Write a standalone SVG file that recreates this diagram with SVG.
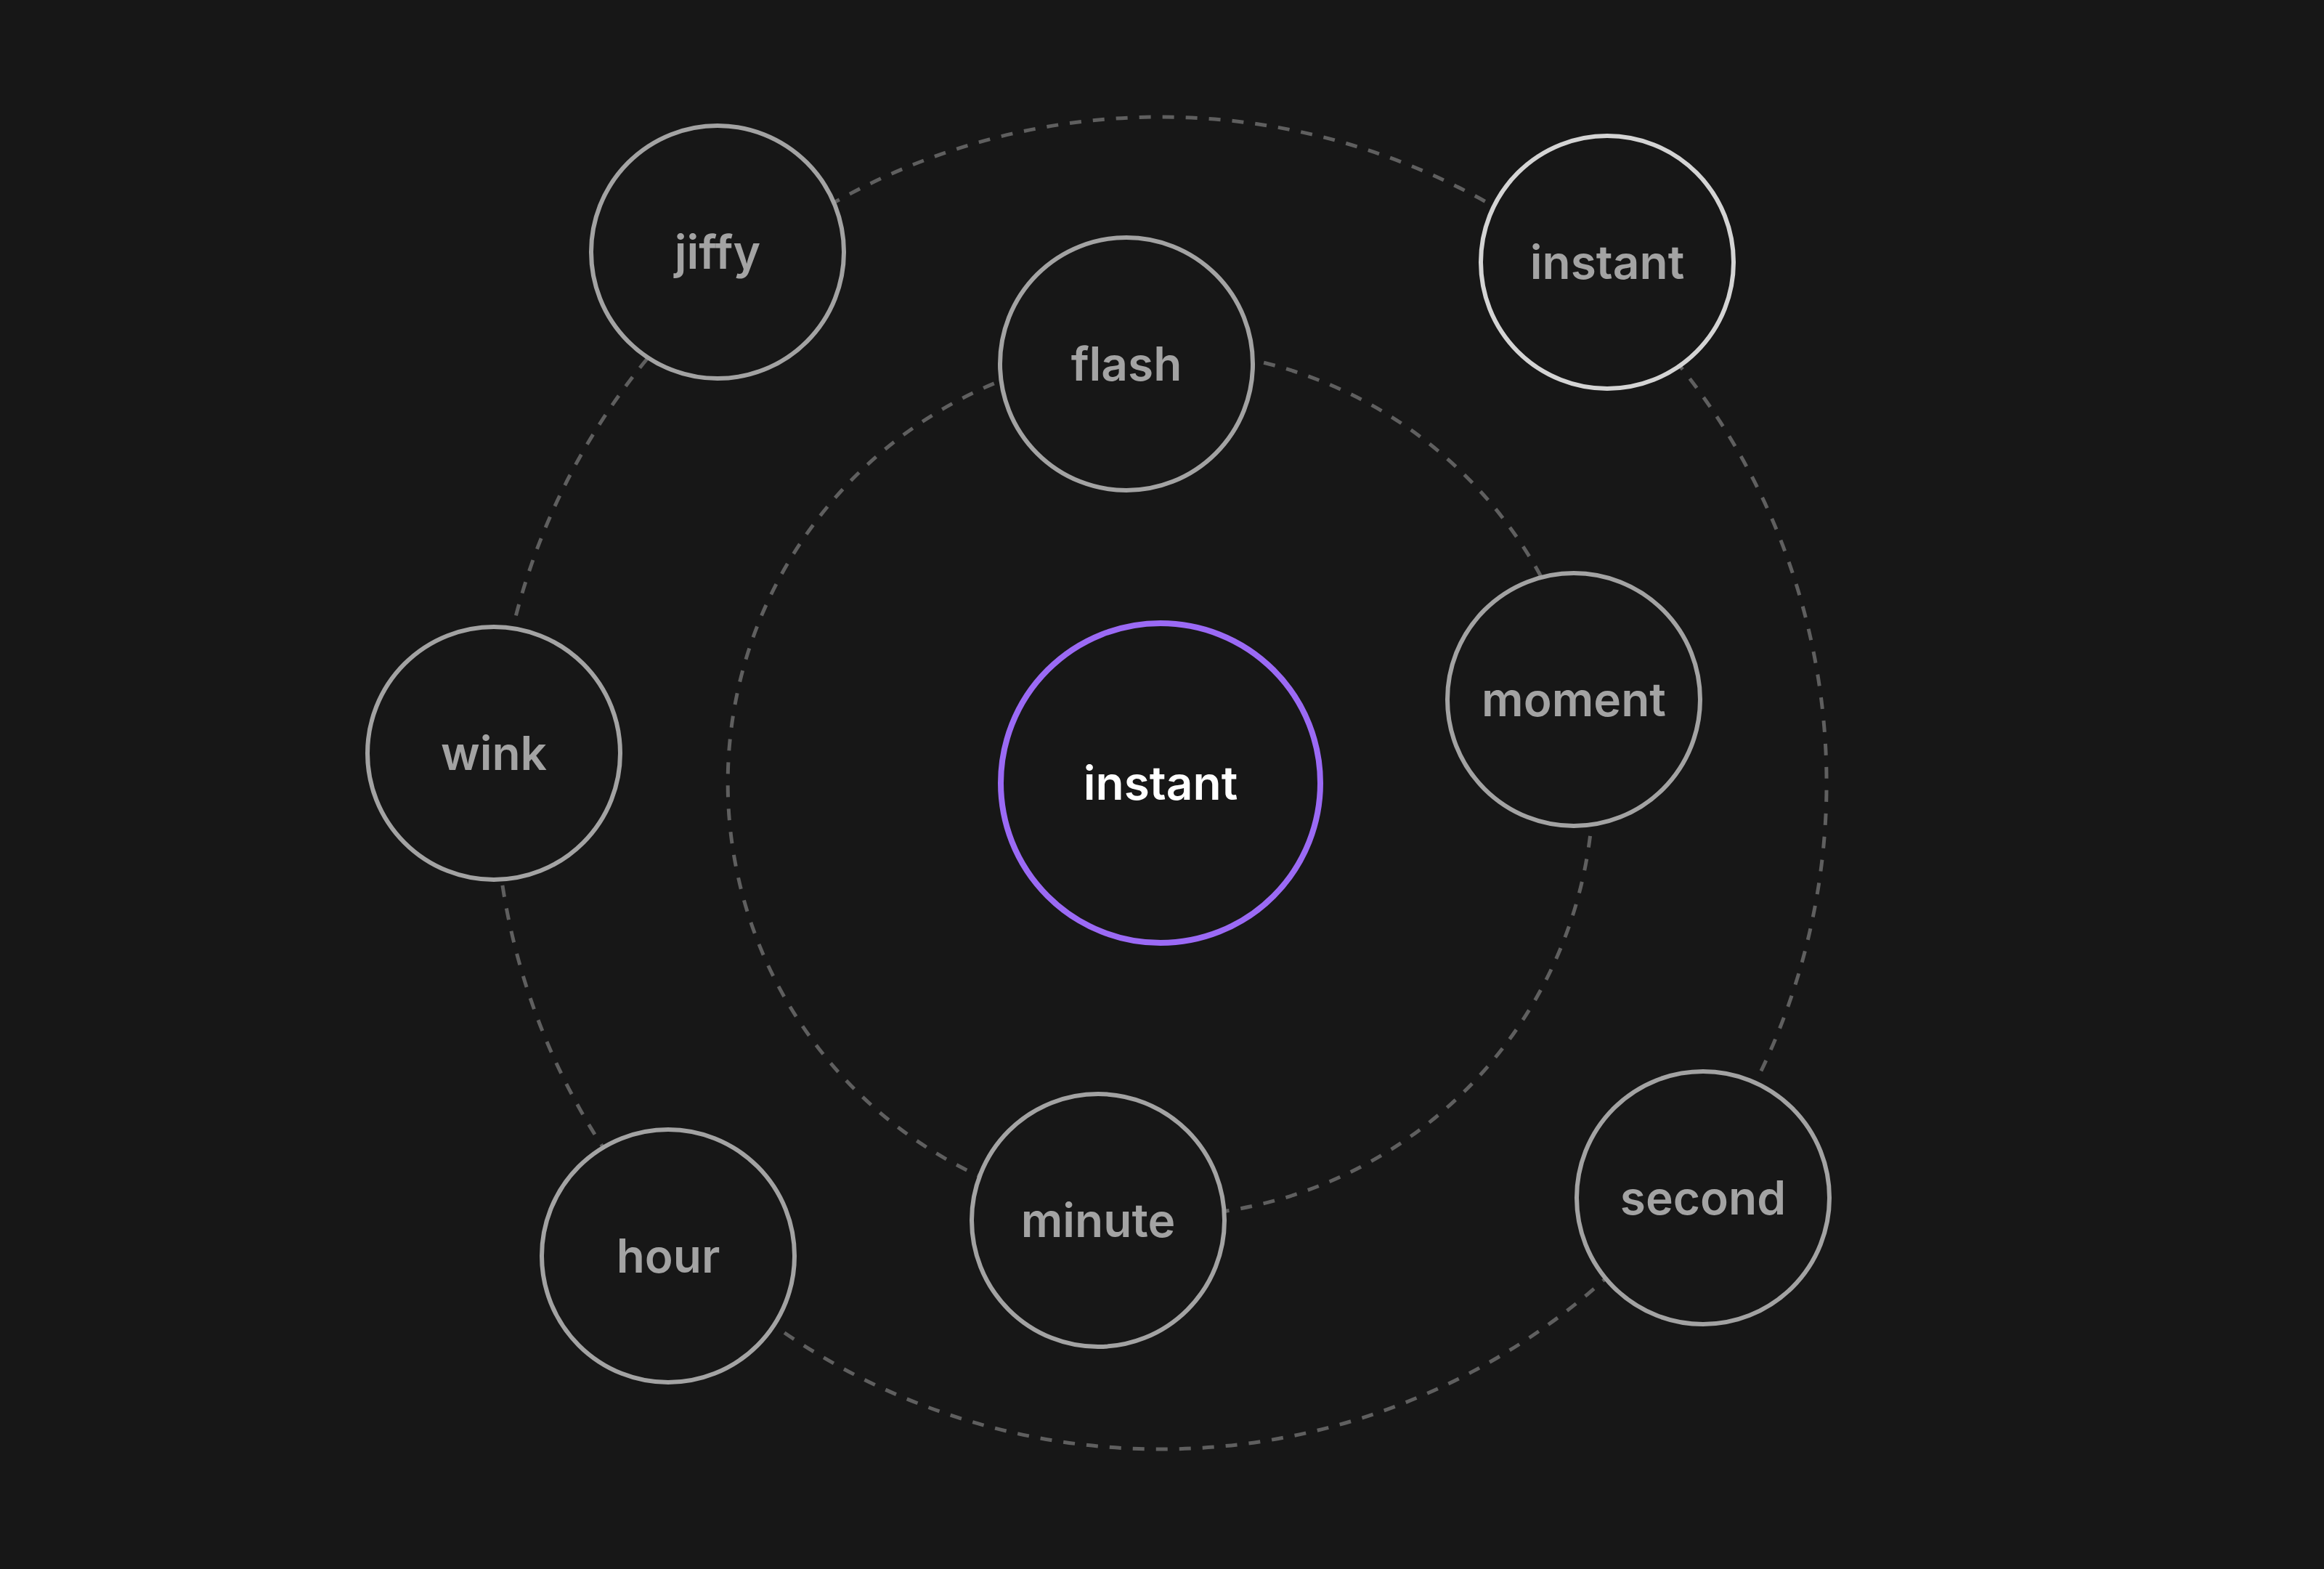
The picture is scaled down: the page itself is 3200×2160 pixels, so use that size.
<svg xmlns="http://www.w3.org/2000/svg" width="3200" height="2160" viewBox="0 0 3200 2160">
  <style>
    .orbit { fill: none; stroke: #5f5f5f; stroke-width: 5; stroke-dasharray: 16 16; }
    .node { fill: #171717; stroke: #a3a3a3; stroke-width: 6; }
    .node-hi { fill: #171717; stroke: #d4d4d4; stroke-width: 6; }
    .hub { fill: #171717; stroke: #9b6af5; stroke-width: 8; }
    .label { font-family: Inter, "Noto Sans", "Liberation Sans", sans-serif; font-size: 64px; font-weight: 600; fill: #a3a3a3; text-anchor: middle; }
    .hub-label { font-family: Inter, "Noto Sans", "Liberation Sans", sans-serif; font-size: 64px; font-weight: 600; fill: #ffffff; text-anchor: middle; }
  </style>
  <rect width="3200" height="2160" fill="#171717"/>

  <g id="connectors">
    <!-- inner orbit, r=596 -->
    <path class="orbit" d="M1549.6,484.0 A596,596 0 0 1 2182.2,959.9"/>
    <path class="orbit" d="M2182.2,959.9 A596,596 0 0 1 1513.7,1668.0"/>
    <path class="orbit" d="M1513.7,1668.0 A596,596 0 0 1 1549.6,484.0"/>
    <!-- outer orbit, r=917 -->
    <path class="orbit" d="M1010.7,373.8 A917,917 0 0 1 2195.1,382.0"/>
    <path class="orbit" d="M2195.1,382.0 A917,917 0 0 1 2326.5,1635.0"/>
    <path class="orbit" d="M2326.5,1635.0 A917,917 0 0 1 936.6,1713.1"/>
    <path class="orbit" d="M936.6,1713.1 A917,917 0 0 1 681.9,1037.0"/>
    <path class="orbit" d="M681.9,1037.0 A917,917 0 0 1 1010.7,373.8"/>
  </g>

  <g id="node-center">
    <circle class="hub" cx="1598" cy="1078" r="220"/>
    <text class="hub-label" x="1598" y="1101">instant</text>
  </g>
  <g id="node-flash">
    <circle class="node" cx="1551" cy="501" r="174"/>
    <text class="label" x="1551" y="524">flash</text>
  </g>
  <g id="node-moment">
    <circle class="node" cx="2167" cy="963" r="174"/>
    <text class="label" x="2167" y="986">moment</text>
  </g>
  <g id="node-minute">
    <circle class="node" cx="1512" cy="1680" r="174"/>
    <text class="label" x="1512" y="1703">minute</text>
  </g>
  <g id="node-jiffy">
    <circle class="node" cx="988" cy="347" r="174"/>
    <text class="label" x="988" y="370">jiffy</text>
  </g>
  <g id="node-instant-outer">
    <circle class="node-hi" cx="2213" cy="361" r="174"/>
    <text class="label" x="2213" y="384">instant</text>
  </g>
  <g id="node-wink">
    <circle class="node" cx="680" cy="1037" r="174"/>
    <text class="label" x="680" y="1060">wink</text>
  </g>
  <g id="node-hour">
    <circle class="node" cx="920" cy="1729" r="174"/>
    <text class="label" x="920" y="1752">hour</text>
  </g>
  <g id="node-second">
    <circle class="node" cx="2345" cy="1649" r="174"/>
    <text class="label" x="2345" y="1672">second</text>
  </g>
</svg>
